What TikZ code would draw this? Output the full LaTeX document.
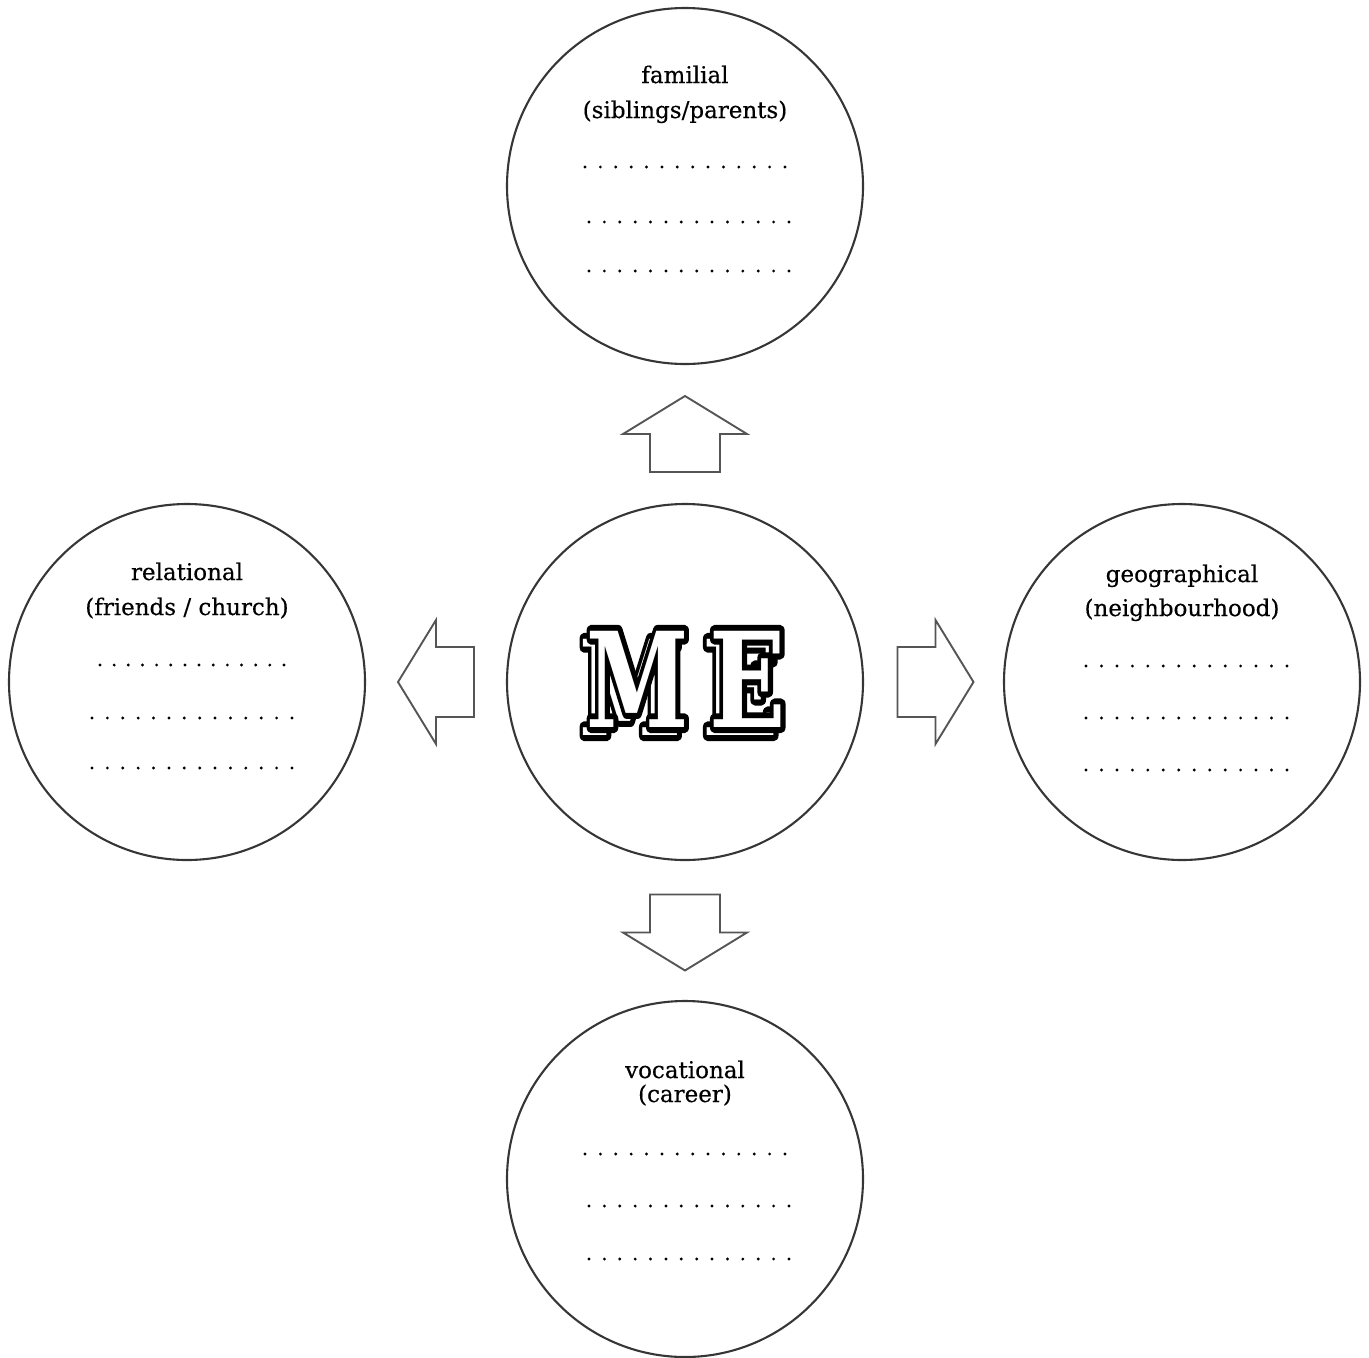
\documentclass[tikz,border=0pt]{standalone}
\usepackage{fontspec}
\setmainfont{DejaVu Serif}
\newfontfamily\titlefont{DejaVu Serif}[FakeBold=0.4]
\newfontfamily\meoutline{DejaVu Serif Bold}[FakeBold=9]
\newfontfamily\meface{DejaVu Serif Bold}
\usepackage{tikz}
\usetikzlibrary{calc}
\definecolor{ringgray}{HTML}{363636}
\definecolor{arrowgray}{HTML}{555555}
\newcommand{\dotrow}[4]{%
  \foreach \k in {0,...,13}
    \fill ($(#1)+({#2+\k*(#3-#2)/13},#4)$) circle[radius=1.6pt];}
\newcommand{\bigletter}[2]{\scalebox{#1}[1]{\rlap{\meoutline #2}\textcolor{white}{\meface #2}}}

\begin{document}
\begin{tikzpicture}[x=1pt,y=-1pt,
  ring/.style={draw=ringgray,line width=2.1pt,circle,minimum size=356pt,inner sep=0pt},
  title/.style={anchor=base,inner sep=0pt,font=\titlefont\fontsize{23}{28}\selectfont},
  blockarrow/.style={draw=arrowgray,line width=1.9pt,fill=white,line join=miter},
  letter/.style={inner sep=0pt,font=\fontsize{132}{140}\selectfont}]
\useasboundingbox (0,0) rectangle (1369,1358);

\node[ring] (me) at (685,682) {};
\node[ring] (familial) at (685,186) {};
\node[ring] (relational) at (187,682) {};
\node[ring] (geographical) at (1182,682) {};
\node[ring] (vocational) at (685,1179) {};

% arrows out of ME
\foreach \target/\turn/\nudge in {familial/0/0,relational/90/0,geographical/-90/-2,vocational/180/-2}
  \draw[blockarrow,shift={($(me)!0.5!(\target)$)},rotate=\turn]
    (-35,38+\nudge) -- (-35,\nudge) -- (-62,\nudge) -- (0,-38+\nudge) -- (62,\nudge) -- (35,\nudge) -- (35,38+\nudge) -- cycle;

% ME
\begin{scope}[line join=round,line cap=round]
\node[letter] (m-back) at (631,687) {\bigletter{0.7}{M}};
\node[letter] (e-back) at (741,687) {\bigletter{0.76}{E}};
\node[letter] (m-front) at (638,679) {\bigletter{0.7}{M}};
\node[letter] (e-front) at (748,679) {\bigletter{0.76}{E}};
\end{scope}

% titles
\node[title] (familial-a) at ($(familial)+(0,-103)$) {familial};
\node[title] (familial-b) at ($(familial)+(0,-68)$) {(siblings/parents)};
\node[title] (relational-a) at ($(relational)+(0,-102)$) {relational};
\node[title] (relational-b) at ($(relational)+(0,-67)$) {(friends / church)};
\node[title] (geographical-a) at ($(geographical)+(0,-100)$) {geographical};
\node[title] (geographical-b) at ($(geographical)+(0,-66)$) {(neighbourhood)};
\node[title] (vocational-a) at ($(vocational)+(0,-101)$) {vocational};
\node[title] (vocational-b) at ($(vocational)+(0,-77)$) {(career)};

% lines to fill in
\dotrow{familial}{-100}{100}{-19}
\dotrow{familial}{-96}{104}{36}
\dotrow{familial}{-96}{104}{85}
\dotrow{relational}{-87}{97}{-17}
\dotrow{relational}{-95}{105}{36}
\dotrow{relational}{-95}{105}{86}
\dotrow{geographical}{-96}{105}{-16}
\dotrow{geographical}{-96}{105}{36}
\dotrow{geographical}{-96}{105}{88}
\dotrow{vocational}{-100}{100}{-25}
\dotrow{vocational}{-96}{104}{27}
\dotrow{vocational}{-96}{104}{80}
\end{tikzpicture}
\end{document}
